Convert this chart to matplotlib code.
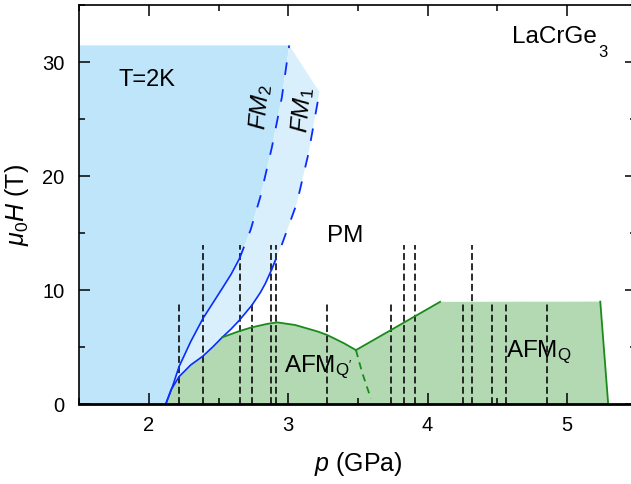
import matplotlib
matplotlib.use('Agg')
import matplotlib.pyplot as plt

plt.rcParams['font.family'] = ['Liberation Sans', 'DejaVu Sans']
plt.rcParams['mathtext.fontset'] = 'custom'
plt.rcParams['mathtext.rm'] = 'Liberation Sans'
plt.rcParams['mathtext.it'] = 'Liberation Sans:italic'
plt.rcParams['mathtext.bf'] = 'Liberation Sans:bold'

# ---------------- data ----------------
# FM2 boundary (solid part, then dashed extrapolation)
fm2_p_solid = [2.12, 2.17, 2.216, 2.30, 2.388, 2.46, 2.526, 2.59, 2.65]
fm2_H_solid = [0.0, 1.6, 3.3, 5.5, 7.53, 8.9, 10.16, 11.4, 12.78]
fm2_p_dash = [2.65, 2.73, 2.80, 2.883, 2.954, 3.007]
fm2_H_dash = [12.78, 15.3, 18.2, 22.56, 26.9, 31.46]

# FM1 boundary (solid part, then dashed extrapolation)
fm1_p_solid = [2.12, 2.16, 2.216, 2.30, 2.388, 2.46, 2.526, 2.59, 2.65, 2.74, 2.80, 2.836, 2.879]
fm1_H_solid = [0.0, 1.3, 2.42, 3.45, 4.23, 5.05, 5.87, 6.6, 7.38, 8.7, 9.8, 10.6, 11.76]
fm1_p_dash = [2.879, 2.954, 3.061, 3.145, 3.224]
fm1_H_dash = [11.76, 14.0, 17.6, 21.98, 27.37]

# AFM_Q' dome
dome_p = [2.526, 2.65, 2.74, 2.85, 2.92, 3.05, 3.216, 3.28, 3.40, 3.486]
dome_H = [5.87, 6.42, 6.75, 7.05, 7.18, 6.95, 6.36, 6.07, 5.35, 4.75]

# AFM_Q boundary
afmq_p = [3.486, 4.09]
afmq_H = [4.75, 8.98]
afmq_top_p = [4.09, 5.24]
afmq_top_H = [9.0, 9.0]
afmq_edge_p = [5.24, 5.297]
afmq_edge_H = [9.0, 0.0]

# dashed Q'/Q separation
sep_p = [3.486, 3.53, 3.593]
sep_H = [4.75, 2.8, 0.5]

# field sweeps (vertical dashed lines)
sweep_p = [2.216, 2.388, 2.65, 2.74, 2.879, 2.914, 3.281, 3.738, 3.829,
           3.911, 4.257, 4.316, 4.466, 4.566, 4.86]
sweep_Hmax = [9, 14, 14, 9, 14, 14, 9, 9, 14, 14, 9, 14, 9, 9, 9]

H_top = 31.46
p_left = 1.5

# ---------------- figure ----------------
fig = plt.figure(figsize=(6.31, 4.84), dpi=100)
ax = fig.add_axes([0.1257, 0.1647, 1.0087 - 0.1257, 0.9897 - 0.1647])
ax.set_xlim(1.5, 5.48)
ax.set_ylim(0, 35)

c_dark = '#bfe5fb'
c_light = '#d9f0fc'
c_green = '#b3d9b3'
c_blue = '#0a2cff'
c_gline = '#1a8a1a'

fm2_p = fm2_p_solid + fm2_p_dash[1:]
fm2_H = fm2_H_solid + fm2_H_dash[1:]
fm1_p = fm1_p_solid + fm1_p_dash[1:]
fm1_H = fm1_H_solid + fm1_H_dash[1:]

# FM2 region (dark blue)
ax.fill([p_left, p_left] + fm2_p[::-1], [0, H_top] + fm2_H[::-1],
        color=c_dark, lw=0, zorder=1)
# FM1 region (light blue)
ax.fill(fm2_p + fm1_p[::-1], fm2_H + fm1_H[::-1], color=c_light, lw=0, zorder=1)

# AFM region (green)
i526 = fm1_p_solid.index(2.526)
gp = fm1_p_solid[:i526] + dome_p + afmq_p[1:] + afmq_top_p[1:] + afmq_edge_p[1:]
gH = fm1_H_solid[:i526] + dome_H + afmq_H[1:] + afmq_top_H[1:] + afmq_edge_H[1:]
ax.fill(gp, gH, color=c_green, lw=0, zorder=1)

# field sweeps
for p, h in zip(sweep_p, sweep_Hmax):
    ax.plot([p, p], [0, h], color='#1a1a1a', lw=1.3, dashes=(3.8, 1.9), zorder=2)

# boundaries
ax.plot(fm2_p_solid, fm2_H_solid, color=c_blue, lw=1.2, zorder=3)
ax.plot(fm2_p_dash, fm2_H_dash, color=c_blue, lw=1.3, dashes=(7, 8), zorder=3)
ax.plot(fm1_p_solid, fm1_H_solid, color=c_blue, lw=1.2, zorder=3)
ax.plot(fm1_p_dash, fm1_H_dash, color=c_blue, lw=1.3, dashes=(7, 8), zorder=3)
ax.plot(dome_p, dome_H, color=c_gline, lw=1.3, zorder=3)
ax.plot(afmq_p, afmq_H, color=c_gline, lw=1.3, zorder=3)
ax.plot(afmq_edge_p, afmq_edge_H, color=c_gline, lw=1.3, zorder=3)
ax.plot(sep_p, sep_H, color=c_gline, lw=1.3, dashes=(4, 3), zorder=3)

# labels
ax.text(1.988, 28.44, 'T=2K', fontsize=17, ha='center', va='center', zorder=4)
ax.text(4.603, 32.2, 'LaCrGe', fontsize=17.5, ha='left', va='center', zorder=4)
ax.text(5.228, 30.85, '3', fontsize=12, ha='left', va='center', zorder=4)
ax.text(3.41, 14.74, 'PM', fontsize=17.5, ha='center', va='center', zorder=4)
ax.text(2.80, 26.05, '$FM_2$', fontsize=17.5, rotation=85, ha='center', va='center', zorder=4)
ax.text(3.10, 25.8, '$FM_1$', fontsize=17.5, rotation=85, ha='center', va='center', zorder=4)
ax.text(2.97, 3.27, "AFM$_{\\mathrm{Q'}}$", fontsize=17.5, ha='left', va='center', zorder=4)
ax.text(4.56, 4.54, 'AFM$_{\\mathrm{Q}}$', fontsize=17.5, ha='left', va='center', zorder=4)

ax.set_xlabel('$p$ (GPa)', fontsize=18, labelpad=10.5)
ax.set_ylabel('$\\mu_0H$ (T)', fontsize=18, labelpad=8)

ax.set_xticks([2, 3, 4, 5])
ax.set_xticks([1.5, 2.5, 3.5, 4.5, 5.5], minor=True)
ax.set_yticks([0, 10, 20, 30])
ax.set_yticks([5, 15, 25, 35], minor=True)
ax.tick_params(which='both', direction='in', top=True, right=True, labelsize=14.5, width=1.1)
ax.tick_params(axis='x', which='major', pad=8.5)
ax.tick_params(axis='y', which='major', pad=10.5)
ax.tick_params(which='major', length=8)
ax.tick_params(which='minor', length=4.5)
for s in ['left', 'top', 'right']:
    ax.spines[s].set_linewidth(1.2)
ax.spines['bottom'].set_linewidth(2)
for sp in ax.spines.values():
    sp.set_zorder(5)

fig.savefig('out.png', dpi=100)
